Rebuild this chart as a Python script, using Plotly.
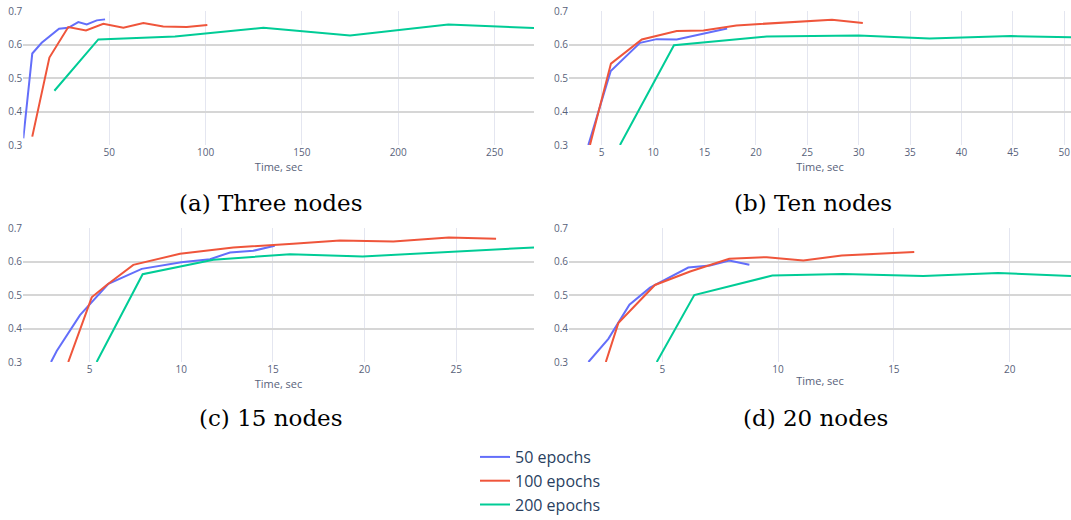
import plotly.graph_objects as go

W, H = 1071, 520

series_names = ["50 epochs", "100 epochs", "200 epochs"]
colors = ["#636EFA", "#EF553B", "#00CC96"]

# (a) Three nodes
a_x_50 = [5.35, 10.0, 14.9, 19.2, 23.9, 28.7, 33.9, 38.3, 43.5, 47.8]
a_y_50 = [0.320, 0.573, 0.605, 0.624, 0.647, 0.650, 0.667, 0.660, 0.672, 0.675]
a_x_100 = [10.0, 18.9, 28.7, 37.9, 46.9, 57.3, 67.7, 78.0, 90.2, 100.9]
a_y_100 = [0.325, 0.561, 0.652, 0.642, 0.662, 0.650, 0.664, 0.654, 0.652, 0.658]
a_x_200 = [21.5, 44.3, 84.1, 130.0, 175.0, 226.0, 270.5]
a_y_200 = [0.462, 0.615, 0.624, 0.650, 0.627, 0.660, 0.649]

# (b) Ten nodes
b_x_50 = [3.70, 5.88, 8.73, 10.35, 12.3, 14.9, 17.2]
b_y_50 = [0.300, 0.521, 0.605, 0.616, 0.615, 0.632, 0.648]
b_x_100 = [3.86, 5.9, 8.9, 12.3, 14.9, 18.1, 27.4, 30.4]
b_y_100 = [0.300, 0.543, 0.615, 0.640, 0.642, 0.657, 0.674, 0.664]
b_x_200 = [6.78, 12.03, 21.05, 30.0, 36.9, 44.8, 50.65]
b_y_200 = [0.300, 0.598, 0.624, 0.627, 0.618, 0.625, 0.622]

# (c) 15 nodes
c_x_50 = [2.89, 3.2, 4.47, 5.02, 6.02, 7.84, 10.0, 11.57, 12.66, 13.93, 15.1]
c_y_50 = [0.300, 0.333, 0.440, 0.473, 0.533, 0.578, 0.598, 0.607, 0.627, 0.632, 0.647]
c_x_100 = [3.83, 5.11, 5.93, 7.38, 9.93, 12.84, 16.1, 18.66, 21.57, 24.6, 27.18]
c_y_100 = [0.300, 0.493, 0.530, 0.590, 0.623, 0.642, 0.653, 0.663, 0.660, 0.672, 0.668]
c_x_200 = [5.38, 7.89, 11.75, 15.93, 19.9, 29.25]
c_y_200 = [0.300, 0.562, 0.605, 0.622, 0.615, 0.642]

# (d) 20 nodes
d_x_50 = [1.81, 2.67, 3.58, 4.47, 6.12, 7.06, 7.89, 8.76]
d_y_50 = [0.300, 0.369, 0.471, 0.522, 0.582, 0.588, 0.603, 0.590]
d_x_100 = [2.56, 3.10, 4.68, 6.2, 7.89, 9.51, 11.09, 12.75, 15.88]
d_y_100 = [0.300, 0.416, 0.530, 0.570, 0.608, 0.613, 0.603, 0.618, 0.628]
d_x_200 = [4.76, 6.38, 9.75, 12.8, 16.27, 19.5, 22.65]
d_y_200 = [0.300, 0.500, 0.558, 0.563, 0.557, 0.566, 0.557]

captions = ["(a) Three nodes", "(b) Ten nodes", "(c) 15 nodes", "(d) 20 nodes"]
x_ranges = [[5.35, 270.5], [1.82, 50.65], [1.36, 29.25], [0.97, 22.65]]
x_dticks = [50, 5, 5, 5]
y_range = [0.3, 0.7]

panels = [
    [(a_x_50, a_y_50), (a_x_100, a_y_100), (a_x_200, a_y_200)],
    [(b_x_50, b_y_50), (b_x_100, b_y_100), (b_x_200, b_y_200)],
    [(c_x_50, c_y_50), (c_x_100, c_y_100), (c_x_200, c_y_200)],
    [(d_x_50, d_y_50), (d_x_100, d_y_100), (d_x_200, d_y_200)],
]

# pixel boxes (left, right, top, bottom)
boxes = [(23.3, 534, 11, 145), (569, 1071, 11, 145), (23, 534, 228, 362), (569, 1071, 228, 362)]
cap_pos = [(270.5, 203), (813, 203), (271, 418), (815, 418)]

tick_color = "#58627a"
fig = go.Figure()
layout = dict(
    width=W, height=H,
    margin=dict(l=0, r=0, t=0, b=0, pad=0, autoexpand=False),
    paper_bgcolor="white", plot_bgcolor="white",
    font=dict(family="Open Sans, DejaVu Sans, sans-serif", color="#2a3f5f"),
    showlegend=True,
    legend=dict(x=0.5 + 5 / W, xanchor="center", y=-2 / H, yanchor="bottom",
                font=dict(size=16, color="#2a3f5f"), tracegroupgap=0,
                bgcolor="rgba(0,0,0,0)"),
    annotations=[],
)

for i, (panel, box) in enumerate(zip(panels, boxes)):
    n = "" if i == 0 else str(i + 1)
    l, r, t, b = box
    for j, (xs, ys) in enumerate(panel):
        fig.add_trace(go.Scatter(
            x=xs, y=ys, mode="lines", name=series_names[j],
            line=dict(color=colors[j], width=2),
            xaxis="x" + n, yaxis="y" + n,
            showlegend=(i == 0), legendgroup=series_names[j],
        ))
    layout["xaxis" + n] = dict(
        domain=[l / W, r / W], anchor="y" + n, range=x_ranges[i],
        dtick=x_dticks[i], tick0=0, automargin=False,
        showgrid=True, gridcolor="#e4e6f0", gridwidth=1, zeroline=False,
        showline=False, ticks="",
        tickfont=dict(size=10, color=tick_color),
        title=dict(text="Time, sec", font=dict(size=11, color=tick_color), standoff=2),
    )
    layout["yaxis" + n] = dict(
        domain=[1 - b / H, 1 - t / H], anchor="x" + n, range=y_range,
        dtick=0.1, tick0=0.3, tickformat=".1f", automargin=False,
        showgrid=True, gridcolor="#d6d6d6", gridwidth=2, zeroline=False,
        showline=False, ticks="",
        tickfont=dict(size=10, color=tick_color),
    )
    cx, cy = cap_pos[i]
    layout["annotations"].append(dict(
        x=cx / W, y=1 - cy / H, xref="paper", yref="paper",
        text=captions[i], showarrow=False, xanchor="center", yanchor="middle",
        font=dict(family="DejaVu Serif, serif", size=23, color="black"),
    ))

fig.update_layout(**layout)
fig.write_html("out.html", config={"displayModeBar": False},
               post_script="document.body.style.margin='0';")
